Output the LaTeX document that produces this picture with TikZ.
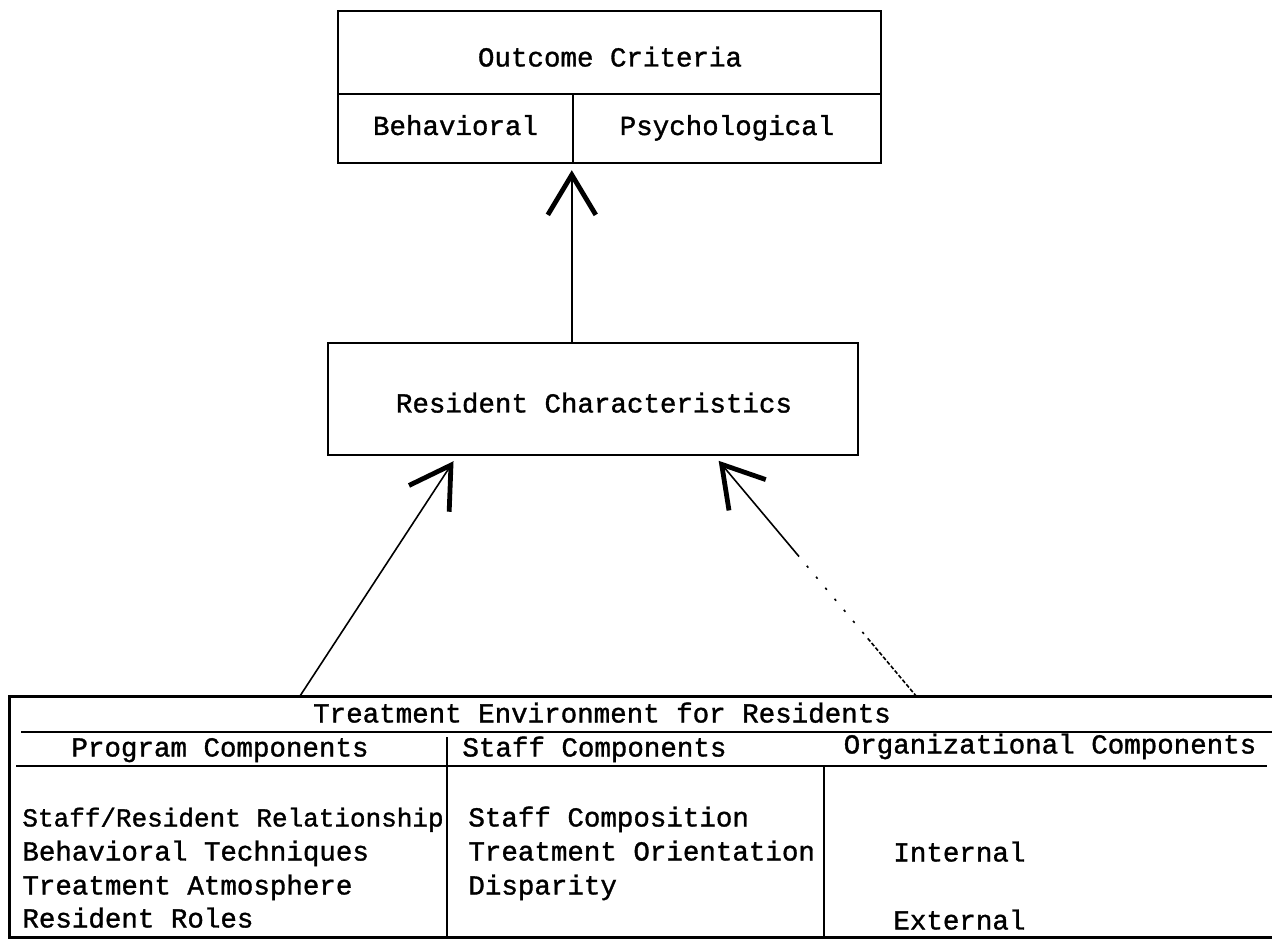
\documentclass[tikz,border=0pt]{standalone}
\usepackage{fontspec}
\setmonofont[FakeBold=1.2]{Liberation Mono}
\usetikzlibrary{arrows.meta,calc}
\begin{document}
\begin{tikzpicture}[x=0.5pt,y=-0.5pt,
  every node/.style={font=\ttfamily\fontsize{13.75}{16}\selectfont, inner sep=0pt, text height=9pt, text depth=2.5pt},
  frame/.style={draw, line width=1.2pt},
  rule/.style={line width=1.2pt},
  divider/.style={line width=1pt},
  arr/.style={line width=0.8pt, shorten >=3pt, -{Straight Barb[length=20pt,width=24pt,line width=2.4pt]}},
  weak/.style={dash pattern=on 2pt off 1pt on 2pt off 1pt on 2pt off 1pt on 2pt off 1pt on 2pt off 1pt on 2pt off 1pt on 2pt off 1pt on 2pt off 1pt on 2pt off 1pt on 2pt off 1pt on 2pt off 1pt on 2pt off 1pt on 2pt off 3pt on 1.2pt off 6pt on 1.2pt off 6pt on 1.2pt off 6pt on 1.2pt off 6pt on 1.2pt off 6pt on 1.2pt off 6pt on 1.2pt off 6pt on 300pt off 1pt}
]
\useasboundingbox (0,0) rectangle (1272,940);

% Outcome criteria box
\node[frame, minimum width=271.5pt, minimum height=41.5pt] (ochead) at (609.5,52.5) {};
\node (octext) at (610,60) {Outcome Criteria};
\node[frame, minimum width=117.5pt, minimum height=34.5pt] (behav) at (455.5,128.5) {Behavioral};
\node[frame, minimum width=154pt, minimum height=34.5pt] (psych) at (727,128.5) {Psychological};

% Resident characteristics
\node[frame, minimum width=265pt, minimum height=56pt] (res) at (593,399) {};
\node (restext) at (594,406) {Resident Characteristics};

% Treatment environment table
\node[minimum width=631pt, minimum height=120pt] (env) at (641,817) {};
\draw[rule] (env.north east) -- (env.north west) -- (env.south west) -- (env.south east);
\draw[rule] (21,732) -- (1272,732);
\draw[rule] (16,766) -- (1267,766);
\draw[divider] (447,737) -- (447,0 |- env.south);
\draw[divider] (824,766) -- (824,0 |- env.south);

\node (te) at (602,716) {Treatment Environment for Residents};
\node (pc) at (220,750) {Program Components};
\node[anchor=west] (sc) at (462,750) {Staff Components};
\node (org) at (1050,747) {Organizational Components};

\node[anchor=west, font=\ttfamily\fontsize{13}{16}\selectfont] (p1) at (22,820) {Staff/Resident Relationship};
\node[anchor=west] (p2) at (22,854) {Behavioral Techniques};
\node[anchor=west] (p3) at (22,888) {Treatment Atmosphere};
\node[anchor=west] (p4) at (22,921) {Resident Roles};

\node[anchor=west] (s1) at (468,820) {Staff Composition};
\node[anchor=west] (s2) at (468,854) {Treatment Orientation};
\node[anchor=west] (s3) at (468,888) {Disparity};

\node[anchor=west] (o1) at (893,855) {Internal};
\node[anchor=west] (o2) at (893,923) {External};

% Connectors
\draw[arr] (res.north -| psych.south west) -- (psych.south west);
\draw[arr] ($(env.north west)+(290,0)$) -- ($(res.south west)+(130,0)$);
\draw[arr, weak] ($(env.north west)+(907,0)$) -- ($(res.south west)+(388,0)$);
\end{tikzpicture}
\end{document}
